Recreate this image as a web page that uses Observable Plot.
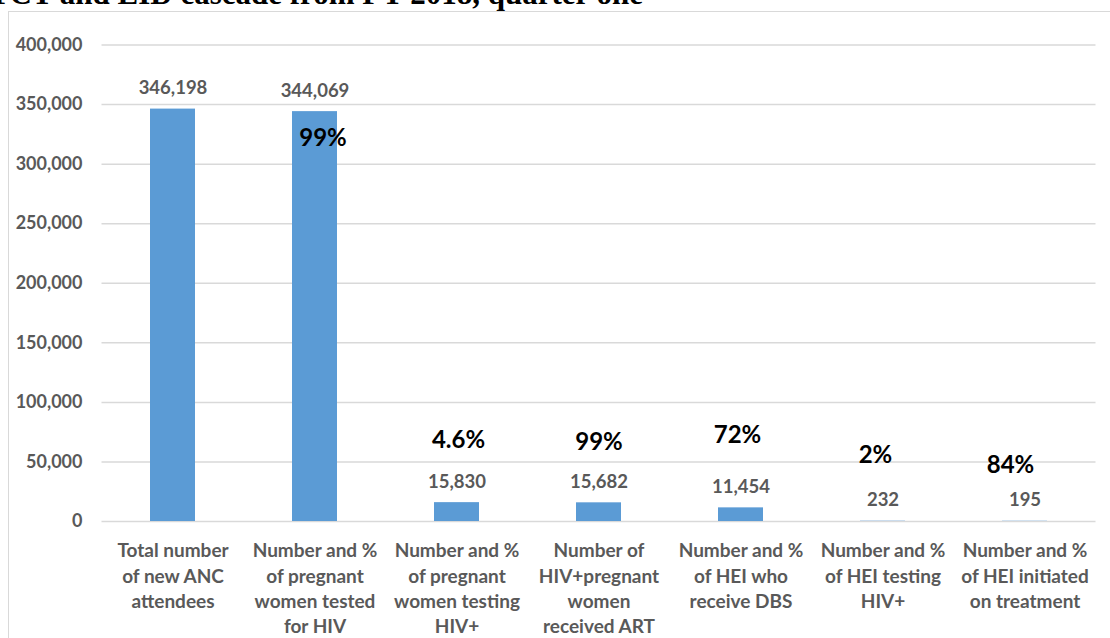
<!DOCTYPE html>
<html>
<head>
<meta charset="utf-8">
<script src="https://cdn.jsdelivr.net/npm/d3@7"></script>
<script src="https://cdn.jsdelivr.net/npm/@observablehq/plot@0.6"></script>
<style>
  html, body { margin: 0; padding: 0; background: #fff; width: 1110px; height: 638px; overflow: hidden; }
  #wrap { position: relative; width: 1110px; height: 638px; overflow: hidden; }
  #title { position: absolute; right: 467px; top: -24px; white-space: nowrap;
           font-family: "Liberation Serif", serif; font-weight: bold; font-size: 31px; color: #000; }
  #frame { position: absolute; left: 8px; top: 11px; width: 1300px; height: 800px;
           border: 1.5px solid #d9d9d9; box-sizing: border-box; }
  #chart { position: absolute; left: 0; top: 0; }
</style>
</head>
<body>
<div id="wrap">
  <div id="title">PMTCT and EID cascade from FY 2018, quarter one</div>
  <div id="frame"></div>
  <div id="chart"></div>
</div>
<script>
// ---- data ----
const categories = [
  "Total number\nof new ANC\nattendees",
  "Number and %\nof pregnant\nwomen tested\nfor HIV",
  "Number and %\nof pregnant\nwomen testing\nHIV+",
  "Number of\nHIV+pregnant\nwomen\nreceived ART",
  "Number and %\nof HEI who\nreceive DBS",
  "Number and %\nof HEI testing\nHIV+",
  "Number and %\nof HEI initiated\non treatment"
];
const values = [346198, 344069, 15830, 15682, 11454, 232, 195];
const percentLabels = [null, "99%", "4.6%", "99%", "72%", "2%", "84%"];
// vertical anchor (in chart units) where each percent annotation sits
const percentAnchors = [null, 321500, 68000, 66300, 72200, 55400, 47000];
const yTicks = [0, 50000, 100000, 150000, 200000, 250000, 300000, 350000, 400000];

// ---- layout / style ----
const percentDx = [0, 8, 1.5, 0, -3.5, -7.5, -14.5];
const grey = "#595959";
const barColor = "#5b9bd5";

const rows = categories.map((c, i) => ({cat: c, value: values[i]}));
const fmt = d3.format(",");

const pctMarks = percentLabels.map((p, i) => p == null ? null :
  Plot.text([{cat: categories[i], y: percentAnchors[i], label: p}], {
    x: "cat", y: "y", text: "label", dx: percentDx[i],
    fontSize: 24, fontWeight: "bold", fill: "#000", lineAnchor: "middle"
  })).filter(Boolean);

const chart = Plot.plot({
  width: 1110,
  height: 638,
  marginLeft: 101.5,
  marginRight: 14.5,
  marginTop: 44.5,
  marginBottom: 117,
  style: {fontFamily: "Lato, sans-serif", background: "transparent", overflow: "visible"},
  x: {domain: categories, paddingInner: 0.683, paddingOuter: 0.3415, label: null},
  y: {domain: [0, 400000], label: null},
  marks: [
    Plot.ruleY(yTicks, {stroke: "#d9d9d9", strokeWidth: 1.5}),
    Plot.axisY({ticks: yTicks, tickSize: 0, tickPadding: 19.5, tickFormat: fmt,
      fontSize: 18, fontWeight: "bold", fill: grey, label: null}),
    Plot.axisX({tickSize: 0, tickPadding: 18, fontSize: 19, fontWeight: "bold",
      fill: grey, lineHeight: 1.33, label: null}),
    Plot.barY(rows, {x: "cat", y: "value", fill: barColor}),
    Plot.text(rows, {x: "cat", y: "value", text: d => fmt(d.value), dy: -21,
      fontSize: 18.5, fontWeight: "bold", fill: grey, lineAnchor: "middle"}),
    ...pctMarks
  ]
});
document.getElementById("chart").appendChild(chart);
</script>
</body>
</html>
